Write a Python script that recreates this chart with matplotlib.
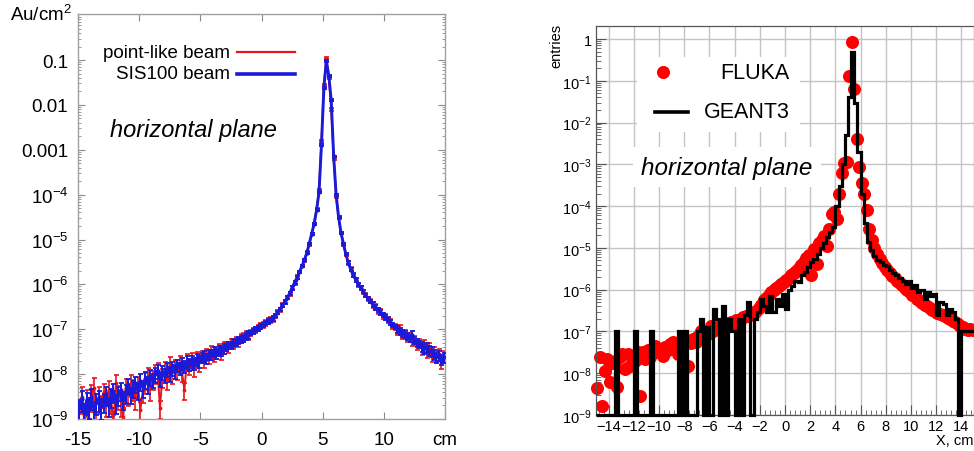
import numpy as np
import matplotlib
matplotlib.use("Agg")
import matplotlib.pyplot as plt
from matplotlib.patches import Rectangle
from matplotlib.ticker import LogLocator, MultipleLocator, NullFormatter

plt.rcParams['font.family'] = ['Liberation Sans', 'DejaVu Sans']
plt.rcParams['mathtext.fontset'] = 'custom'
plt.rcParams['mathtext.rm'] = 'Liberation Sans'
plt.rcParams['mathtext.it'] = 'Liberation Sans:italic'
plt.rcParams['mathtext.bf'] = 'Liberation Sans:bold'

# ---------------- left panel data (log10 of Au/cm^2, bins of 0.2 cm) ----------------
x_left = np.linspace(-14.9, 14.9, 150)

sis100_log = [
    -8.75, -8.55, -8.85, -8.60, -8.70, -8.50, -8.80, -8.62, -8.55, -8.72,
    -8.60, -8.45, -8.70, -8.50, -8.38, -8.62, -8.45, -8.35, -8.55, -8.40,
    -8.25, -8.45, -8.30, -8.20, -8.35, -8.15, -8.30, -8.10, -8.22, -8.05,
    -8.12, -8.00, -7.92, -8.10, -7.95, -8.02, -7.88, -7.98, -7.85, -7.93,
    -7.80, -7.86, -7.75, -7.82, -7.72, -7.78, -7.70, -7.75, -7.66, -7.70,
    -7.62, -7.58, -7.65, -7.55, -7.57, -7.50, -7.53, -7.46, -7.48, -7.42,
    -7.40, -7.35, -7.36, -7.30, -7.28, -7.25, -7.22, -7.20, -7.15, -7.12,
    -7.08, -7.04, -7.00, -6.98, -6.94, -6.90, -6.86, -6.83, -6.79, -6.75,
    -6.70, -6.63, -6.55, -6.47, -6.39, -6.30, -6.20, -6.08, -5.96, -5.85,
    -5.72, -5.60, -5.46, -5.30, -5.10, -4.88, -4.65, -4.35, -3.95, -2.90,
    -1.62, -1.02, -1.35, -1.90, -3.15, -4.00, -4.50, -4.85, -5.10, -5.33,
    -5.52, -5.67, -5.79, -5.90, -6.00, -6.08, -6.16, -6.24, -6.31, -6.38,
    -6.45, -6.51, -6.57, -6.62, -6.68, -6.73, -6.78, -6.84, -6.90, -6.95,
    -7.00, -7.04, -7.08, -7.10, -7.16, -7.20, -7.12, -7.25, -7.30, -7.33,
    -7.38, -7.42, -7.40, -7.48, -7.50, -7.55, -7.62, -7.58, -7.68, -7.62,
]

pointlike_log = [
    -8.85, -8.50, -9.00, -8.55, -8.80, -8.45, -8.30, -8.65, -8.50, -8.70,
    -8.40, -8.60, -8.35, -8.55, -9.10, -8.20, -8.45, -8.60, -8.95, -8.30,
    -8.40, -8.20, -8.30, -8.50, -8.25, -8.80, -8.35, -8.15, -8.05, -8.30,
    -8.10, -7.95, -7.92, -8.75, -8.05, -7.90, -8.10, -7.78, -7.95, -7.85,
    -7.90, -7.75, -7.95, -8.35, -7.70, -7.80, -7.68, -7.85, -7.65, -7.72,
    -7.60, -7.70, -7.55, -7.62, -7.48, -7.58, -7.50, -7.45, -7.52, -7.40,
    -7.38, -7.42, -7.30, -7.33, -7.25, -7.28, -7.20, -7.18, -7.12, -7.14,
    -7.07, -7.03, -7.01, -6.97, -6.93, -6.90, -6.85, -6.82, -6.78, -6.76,
    -6.70, -6.62, -6.56, -6.46, -6.40, -6.29, -6.21, -6.07, -5.97, -5.84,
    -5.73, -5.59, -5.47, -5.29, -5.11, -4.87, -4.66, -4.33, -3.90, -2.80,
    -1.55, -0.96, -1.40, -2.10, -3.20, -4.05, -4.52, -4.86, -5.11, -5.34,
    -5.53, -5.66, -5.80, -5.90, -6.01, -6.08, -6.17, -6.23, -6.32, -6.37,
    -6.46, -6.50, -6.58, -6.61, -6.69, -6.72, -6.80, -6.83, -6.92, -6.94,
    -7.02, -7.00, -7.10, -7.10, -7.18, -7.17, -7.26, -7.24, -7.35, -7.30,
    -7.42, -7.35, -7.48, -7.43, -7.58, -7.50, -7.60, -7.55, -7.72, -7.60,
]

# relative errors, one value per 2 cm
sis100_relerr_2cm = [0.5, 0.45, 0.4, 0.35, 0.3, 0.25, 0.18, 0.12, 0.08, 0.05,
                     0.05, 0.08, 0.12, 0.18, 0.25]
pointlike_relerr_2cm = [0.6, 0.55, 0.5, 0.45, 0.4, 0.3, 0.22, 0.15, 0.1, 0.06,
                        0.06, 0.1, 0.15, 0.22, 0.3]

left_yticks = [1e-9, 1e-8, 1e-7, 1e-6, 1e-5, 1e-4, 1e-3, 1e-2, 1e-1]
left_ylabels = ['$10^{-9}$', '$10^{-8}$', '$10^{-7}$', '$10^{-6}$', '$10^{-5}$',
                '$10^{-4}$', '0.001', '0.01', '0.1']
left_xticks = [-15, -10, -5, 0, 5, 10, 15]
left_xlabels = ['-15', '-10', '-5', '0', '5', '10', 'cm']

# ---------------- right panel data ----------------
# FLUKA points (log10 entries), 0.2 cm spacing
x_fluka = np.linspace(-14.9, 14.9, 150)
fluka_log = [
    -8.35, -7.62, -8.78, -7.94, -7.65, -8.20, -7.75, -7.70, -8.33, -7.60,
    -7.55, -7.90, -7.54, -7.83, -7.60, -7.70, -7.50, -8.54, -7.49, -7.65,
    -7.45, -7.60, -7.40, -7.34, -7.50, -7.42, -7.58, -7.38, -7.45, -7.30,
    -7.26, -7.40, -7.55, -7.30, -7.35, -7.20, -7.82, -7.28, -7.18, -7.25,
    -7.12, -7.00, -7.15, -7.08, -7.05, -6.87, -7.00, -6.95, -6.90, -6.85,
    -6.85, -6.90, -6.80, -6.78, -6.82, -6.72, -6.75, -6.70, -6.65, -6.62,
    -6.62, -6.58, -6.55, -6.50, -6.43, -6.36, -6.25, -6.20, -6.12, -6.06,
    -6.00, -5.97, -5.92, -5.87, -5.82, -5.76, -5.72, -5.66, -5.60, -5.55,
    -5.47, -5.40, -5.33, -5.25, -5.17, -5.65, -5.02, -5.38, -4.88, -4.80,
    -4.72, -4.95, -4.55, -4.20, -4.15, -4.30, -3.71, -3.21, -2.97, -2.95,
    -0.88, -0.07, -1.20, -2.40, -3.07, -3.45, -3.72, -4.10, -4.55, -4.80,
    -5.00, -5.15, -5.27, -5.37, -5.46, -5.54, -5.61, -5.67, -5.73, -5.79,
    -5.85, -5.90, -5.95, -6.00, -6.05, -6.12, -6.16, -6.22, -6.27, -6.32,
    -6.36, -6.40, -6.44, -6.48, -6.52, -6.55, -6.58, -6.61, -6.64, -6.68,
    -6.70, -6.74, -6.78, -6.82, -6.86, -6.90, -6.94, -6.97, -6.93, -6.96,
]

# GEANT3 histogram, 120 bins of 0.25 cm from -15 to 15 (0 = empty bin)
geant3_edges = np.linspace(-15, 15, 121)
geant3_entries = [
    0, 0, 0, 0, 0, 0, 1e-7, 0, 0, 0,
    0, 0, 1e-7, 0, 0, 0, 0, 1e-7, 0, 0,
    0, 0, 0, 0, 0, 0, 1e-7, 0, 1e-7, 0,
    0, 0, 1e-7, 2e-7, 0, 1.3e-7, 0, 3.5e-7, 2e-7, 0,
    4e-7, 0, 2e-7, 1e-7, 0, 2e-7, 0, 2.5e-7, 5e-7, 0,
    2e-7, 3e-7, 6e-7, 4e-7, 3e-7, 7e-7, 3e-7, 6e-7, 4e-7, 8e-7,
    3.5e-7, 1e-6, 1.2e-6, 1.6e-6, 1.5e-6, 2.2e-6, 2.6e-6, 3.5e-6, 4.5e-6, 5.5e-6,
    7e-6, 1e-5, 1.3e-5, 1.8e-5, 2.4e-5, 3.2e-5, 1e-4, 3e-4, 1e-3, 5e-3,
    0.04, 0.5, 0.03, 2e-3, 2e-4, 4e-5, 1.4e-5, 9e-6, 6.5e-6, 5.2e-6,
    4.5e-6, 4e-6, 3.7e-6, 3e-6, 2.5e-6, 2.2e-6, 1.9e-6, 1.6e-6, 1.4e-6, 1.6e-6,
    1.1e-6, 1.3e-6, 9e-7, 1e-6, 6e-7, 9e-7, 7e-7, 8e-7, 2.5e-7, 5e-7,
    4.5e-7, 2.5e-7, 3.5e-7, 3e-7, 2e-7, 0, 1e-7, 1e-7, 1e-7, 1e-7,
]

right_yticks = [1e-9, 1e-8, 1e-7, 1e-6, 1e-5, 1e-4, 1e-3, 1e-2, 1e-1, 1]
right_ylabels = ['$10^{-9}$', '$10^{-8}$', '$10^{-7}$', '$10^{-6}$', '$10^{-5}$',
                 '$10^{-4}$', '$10^{-3}$', '$10^{-2}$', '$10^{-1}$', '1']

RED = '#e8141c'
BLUE = '#1a1ad8'

fig = plt.figure(figsize=(9.74, 4.52), dpi=100)

# ================= left: gnuplot style =================
ax1 = fig.add_axes([78 / 974, 1 - 420 / 452, 367 / 974, 405 / 452])
ax1.set_yscale('log')

red_y = 10.0 ** np.array(pointlike_log)
blue_y = 10.0 ** np.array(sis100_log)
red_err = red_y * np.repeat(pointlike_relerr_2cm, 10)
blue_err = blue_y * np.repeat(sis100_relerr_2cm, 10)

ax1.errorbar(x_left, red_y, yerr=red_err, fmt='-', color=RED, lw=1.4,
             marker='.', ms=3.5, elinewidth=1.2, capsize=1.8, capthick=1.2, zorder=2)
ax1.errorbar(x_left, blue_y, yerr=blue_err, fmt='-', color=BLUE, lw=2.1,
             marker='.', ms=4, elinewidth=1.4, capsize=1.8, capthick=1.3, zorder=3)

ax1.set_xlim(-15, 15)
ax1.set_ylim(1e-9, 1.06)
ax1.set_xticks(left_xticks, labels=left_xlabels)
ax1.set_yticks(left_yticks, labels=left_ylabels)
ax1.yaxis.set_minor_locator(LogLocator(base=10, subs=np.arange(2, 10)))
ax1.yaxis.set_minor_formatter(NullFormatter())
ax1.tick_params(which='both', direction='in', top=True, right=True, color='#8a8a8a')
ax1.tick_params(which='major', length=5, width=0.8, labelsize=13.5, pad=7)
ax1.tick_params(which='minor', length=2.5, width=0.6)
ax1.tick_params(axis='x', pad=9)
for s in ax1.spines.values():
    s.set_color('#a0a0a0')
    s.set_linewidth(1.0)

# legend (text right of the sample line, gnuplot style)
ax1.plot([0.433, 0.591], [0.906, 0.906], color=RED, lw=1.6, transform=ax1.transAxes)
ax1.plot([0.433, 0.591], [0.852, 0.852], color=BLUE, lw=2.6, transform=ax1.transAxes)
ax1.text(0.414, 0.906, 'point-like beam', transform=ax1.transAxes,
         ha='right', va='center', fontsize=13.5)
ax1.text(0.414, 0.852, 'SIS100 beam', transform=ax1.transAxes,
         ha='right', va='center', fontsize=13.5)
ax1.text(0.087, 0.716, 'horizontal plane', transform=ax1.transAxes,
         ha='left', va='center', fontsize=17, style='italic')
fig.text(10 / 974, 1 - 15 / 452, 'Au/cm$^2$', ha='left', va='center', fontsize=13.5)

# ================= right: ROOT style =================
ax2 = fig.add_axes([596 / 974, 1 - 416 / 452, 378 / 974, 389 / 452])
ax2.set_yscale('log')
ax2.set_xlim(-15, 15)
ax2.set_ylim(1e-9, 2.05)
ymin = ax2.get_ylim()[0]

ax2.plot(x_fluka, 10.0 ** np.array(fluka_log), 'o', color='#ff0000', ms=9.4,
         mew=0, clip_on=False, zorder=2)
g = np.array(geant3_entries)
ax2.stairs(np.where(g > 0, g, ymin), geant3_edges, baseline=None,
           color='black', lw=2.3, clip_on=False, zorder=3)

ax2.set_axisbelow(True)
ax2.grid(True, which='major', color='#c4c4c4', lw=1.0)
ax2.set_xticks(np.arange(-14, 15, 2))
ax2.xaxis.set_minor_locator(MultipleLocator(0.4))
ax2.set_yticks(right_yticks, labels=right_ylabels)
ax2.yaxis.set_minor_locator(LogLocator(base=10, subs=np.arange(2, 10)))
ax2.yaxis.set_minor_formatter(NullFormatter())
ax2.tick_params(which='both', direction='in', color='#555555')
ax2.tick_params(which='major', length=7, width=0.8, labelsize=10.5, pad=3)
ax2.tick_params(which='minor', length=3.5, width=0.6)
for s in ax2.spines.values():
    s.set_color('#555555')
    s.set_linewidth(0.9)

# white boxes behind legend and label
ax2.add_patch(Rectangle((0.108, 0.7275), 0.432, 0.1925, transform=ax2.transAxes,
                        facecolor='white', edgecolor='none', zorder=1))
ax2.plot([0.177], [0.8817], 'o', color='#ff0000', ms=9.4, mew=0,
         transform=ax2.transAxes, zorder=4)
ax2.plot([0.156, 0.243], [0.779, 0.779], color='black', lw=2.6,
         transform=ax2.transAxes, zorder=4)
ax2.text(0.513, 0.8817, 'FLUKA', transform=ax2.transAxes, ha='right', va='center',
         fontsize=15.5, zorder=4)
ax2.text(0.513, 0.779, 'GEANT3', transform=ax2.transAxes, ha='right', va='center',
         fontsize=15.5, zorder=4)
ax2.text(0.347, 0.6375, 'horizontal plane', transform=ax2.transAxes, ha='center',
         va='center', fontsize=17.5, style='italic', zorder=4,
         bbox=dict(facecolor='white', edgecolor='none', pad=6))

fig.text(973 / 974, 1 - 441 / 452, 'X, cm', ha='right', va='center', fontsize=10.5)
fig.text(556 / 974, 1 - 24 / 452, 'entries', rotation=90, ha='center', va='top',
         fontsize=10.5)

fig.savefig('out.png', dpi=100)
